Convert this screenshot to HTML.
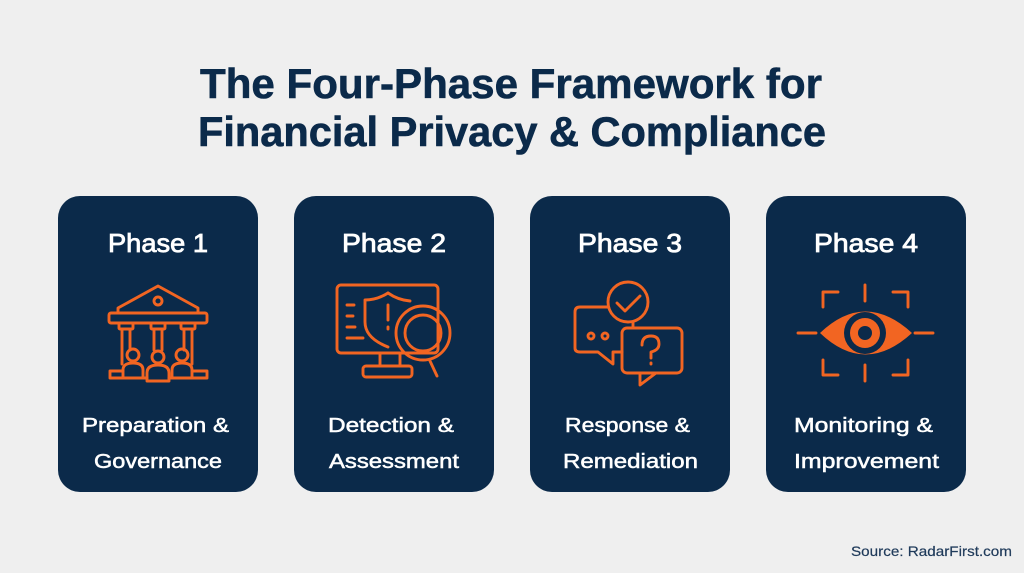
<!DOCTYPE html>
<html><head><meta charset="utf-8"><style>
html,body{margin:0;padding:0;background:#efefef;width:1024px;height:573px;overflow:hidden}
svg{display:block}
text{font-family:"Liberation Sans",sans-serif}
</style></head><body>
<svg width="1024" height="573" viewBox="0 0 1024 573" xmlns="http://www.w3.org/2000/svg">
<rect width="1024" height="573" fill="#efefef"/>
<g fill="#0b2a4a" font-weight="bold" font-size="42" stroke="#0b2a4a" stroke-width="0.6">
<text x="200" y="98" textLength="622" lengthAdjust="spacingAndGlyphs">The Four-Phase Framework for</text>
<text x="198" y="146" textLength="628" lengthAdjust="spacingAndGlyphs">Financial Privacy &amp; Compliance</text>
</g>
<g fill="#0b2a4a">
<rect x="58" y="196" width="200" height="296" rx="22"/>
<rect x="294" y="196" width="200" height="296" rx="22"/>
<rect x="530" y="196" width="200" height="296" rx="22"/>
<rect x="766" y="196" width="200" height="296" rx="22"/>
</g>
<g fill="#ffffff" font-size="26" stroke="#ffffff" stroke-width="0.8">
<text x="108" y="252" textLength="100" lengthAdjust="spacingAndGlyphs">Phase 1</text>
<text x="342" y="252" textLength="104" lengthAdjust="spacingAndGlyphs">Phase 2</text>
<text x="578" y="252" textLength="104" lengthAdjust="spacingAndGlyphs">Phase 3</text>
<text x="814" y="252" textLength="104" lengthAdjust="spacingAndGlyphs">Phase 4</text>
</g>
<g fill="#ffffff" font-size="20" stroke="#ffffff" stroke-width="0.5">
<text x="82" y="432" textLength="147" lengthAdjust="spacingAndGlyphs">Preparation &amp;</text>
<text x="94" y="468" textLength="128" lengthAdjust="spacingAndGlyphs">Governance</text>
<text x="328" y="432" textLength="126" lengthAdjust="spacingAndGlyphs">Detection &amp;</text>
<text x="329" y="468" textLength="130" lengthAdjust="spacingAndGlyphs">Assessment</text>
<text x="565" y="432" textLength="125" lengthAdjust="spacingAndGlyphs">Response &amp;</text>
<text x="563" y="468" textLength="135" lengthAdjust="spacingAndGlyphs">Remediation</text>
<text x="794" y="432" textLength="139" lengthAdjust="spacingAndGlyphs">Monitoring &amp;</text>
<text x="794" y="468" textLength="145" lengthAdjust="spacingAndGlyphs">Improvement</text>
</g>
<text x="851" y="556" fill="#1f3a5a" font-size="14" stroke="#1f3a5a" stroke-width="0.2" textLength="161" lengthAdjust="spacingAndGlyphs">Source: RadarFirst.com</text>

<g fill="none" stroke="#f26522" stroke-width="2.9" stroke-linejoin="round" stroke-linecap="round">
<path d="M118 313 L118 308 L158 286 L198 308 L198 313"/>
<circle cx="158" cy="301" r="4"/>
<rect x="109" y="313" width="98" height="10" rx="2"/>
<rect x="119" y="323" width="14" height="6" rx="1"/>
<rect x="151" y="323" width="14" height="6" rx="1"/>
<rect x="181" y="323" width="14" height="6" rx="1"/>
<path d="M122 329 V364 M130 329 V350 M154 329 V350 M162 329 V350 M184 329 V350 M192 329 V364"/>
<circle cx="133" cy="355" r="6"/><circle cx="158" cy="357" r="6"/><circle cx="182" cy="355" r="6"/>
<path d="M123 378 V370 Q123 363 133 363 Q143 363 143 370 V378"/>
<path d="M147 381 V373 Q147 365 158 365 Q169 365 169 373 V381 Z"/>
<path d="M172 378 V370 Q172 363 182 363 Q192 363 192 370 V378"/>
<path d="M110 378 V371 H123 M207 378 V371 H192 M110 378 H147 M169 378 H207"/>
<rect x="337" y="285" width="101" height="68" rx="4"/>
<path d="M380 353 V366 M400 353 V366"/>
<rect x="363" y="366" width="49" height="11" rx="3"/>
<path d="M347 305 H354 M347 316 H353 M347 327 H355 M347 338 H363"/>
<path d="M388 293 Q377 300 365 300 V322 Q365 338 388 347"/>
<path d="M388 293 Q398 300 410 301"/>
<path d="M388 305 V320 M388 327 V329"/>
<circle cx="423" cy="333" r="27"/>
<circle cx="423" cy="333" r="18"/>
<path d="M430 361 L437 376"/>
<circle cx="628" cy="302" r="20"/>
<path d="M617 303 L625 311 L640 296"/>
<path d="M608 307 H580 Q575 307 575 312 V348 Q575 352 580 352 H598 L613 364 V352 H622"/>
<circle cx="591" cy="336" r="3"/><circle cx="605" cy="336" r="3"/>
<path d="M633 322 V328"/>
<rect x="622" y="328" width="60" height="45" rx="5"/>
<path d="M640 373 V385 L656 373"/>
<path d="M642 345 Q642 336 651 336 Q659 336 659 344 Q659 350 651 352 V358 M651 363 V364"/>
<path d="M823 307 V292 H838 M908 307 V292 H893 M823 360 V375 H838 M908 360 V375 H893"/>
<path d="M865 285 V301 M865 365 V381 M798 333 H816 M915 333 H933"/>
</g>
<path d="M820 333 Q865 290 912 333 Q865 376 820 333 Z" fill="#f26522"/>
<circle cx="865" cy="333" r="21" fill="#0b2a4a"/>
<circle cx="865" cy="333" r="15" fill="#f26522"/>
<circle cx="865" cy="333" r="7" fill="#0b2a4a"/>
</svg>
</body></html>
